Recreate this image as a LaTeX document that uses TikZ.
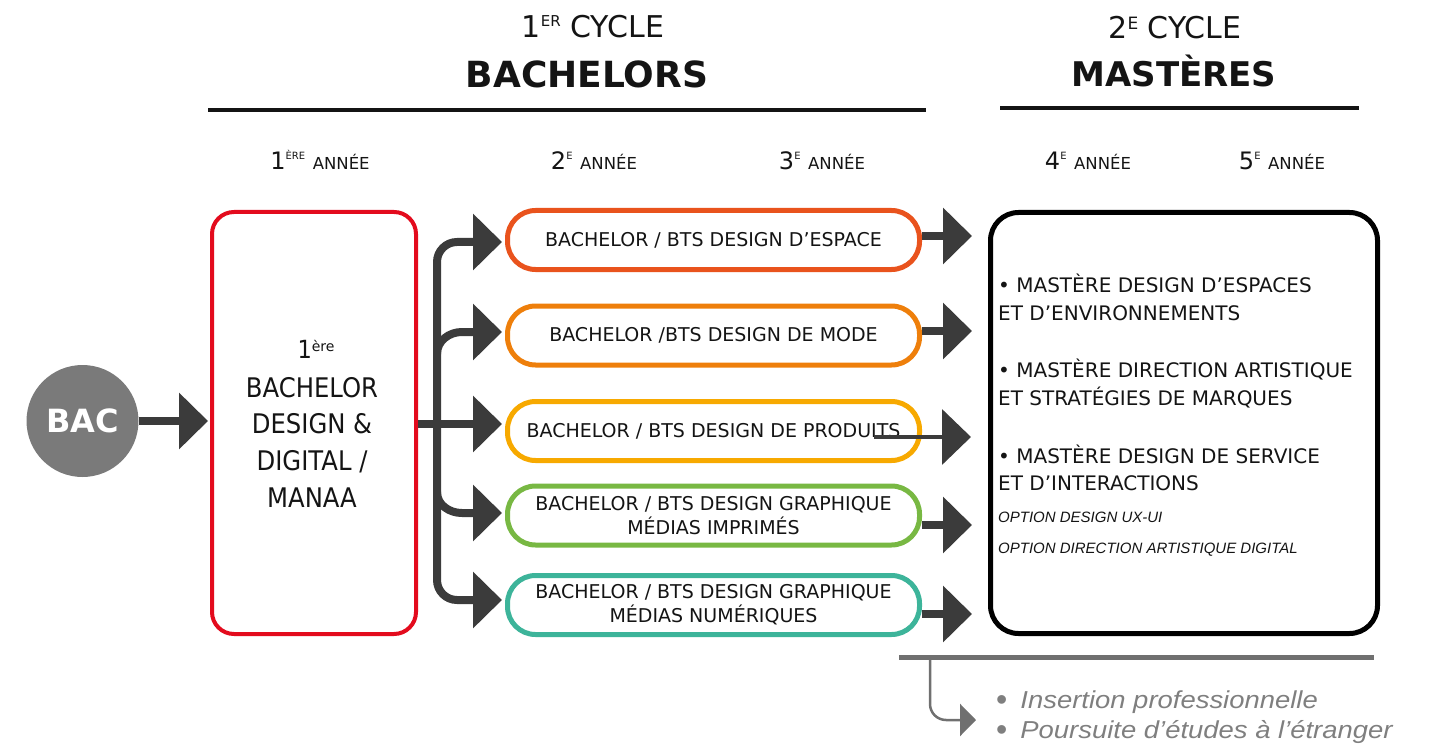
\documentclass[tikz,border=0pt]{standalone}
\usepackage{fontspec}
\setmainfont{DejaVu Sans}
\newfontfamily\condfont[FakeStretch=0.9]{DejaVu Sans}
\newfontfamily\arialfont{Liberation Sans}
\newfontfamily\widearial[FakeStretch=1.12]{Liberation Sans}
\usetikzlibrary{arrows.meta}
\newcommand\myfs[2]{\fontsize{#1pt}{#2pt}\selectfont}
\newcommand\graydot{\raisebox{-2pt}{\arialfont\myfs{32}{32}•}}
\definecolor{cRed}{HTML}{E30B1D}
\definecolor{cA}{HTML}{E9531D}
\definecolor{cB}{HTML}{EE7F0B}
\definecolor{cC}{HTML}{F7A900}
\definecolor{cD}{HTML}{78B843}
\definecolor{cE}{HTML}{3DB49A}
\definecolor{dk}{HTML}{3B3B3B}
\definecolor{bacg}{HTML}{7A7A7A}
\definecolor{lg}{HTML}{707070}
\definecolor{tg}{HTML}{7F7F7F}
\definecolor{txt}{HTML}{141414}
\begin{document}
\begin{tikzpicture}[x=1pt,y=-1pt,
  fat/.style={draw=dk, line width=8pt, -{Triangle[width=55pt,length=29pt]}},
  bbox/.style={draw=#1, line width=5pt, rounded corners=28pt, minimum width=412pt, minimum height=59pt, inner sep=0pt, align=center, font=\myfs{19}{24}, text=txt},
  hd/.style={anchor=base, inner sep=0pt, text=txt},
  mt/.style={anchor=base west, inner sep=0pt, text=txt, font=\myfs{20}{24}},
  opt/.style={anchor=base west, inner sep=0pt, text=txt, font=\arialfont\itshape\myfs{15}{18}},
  rb/.style={anchor=base, inner sep=0pt, text=txt, font=\condfont\myfs{27}{30}},
  bt/.style={anchor=base west, inner sep=0pt, text=tg, font=\widearial\myfs{24.5}{30}},
  rule/.style={draw=txt, line width=4.5pt}
]
\useasboundingbox (0,0) rectangle (1435,746);

% headers
\node[hd] (h1) at (593,38) {\myfs{30}{36}1\raisebox{11pt}{\myfs{15}{15}ER} CYCLE};
\node[hd] (h2) at (587,88) {\bfseries\myfs{36}{40}BACHELORS};
\node[hd] (h3) at (1175,39) {\myfs{30}{36}2\raisebox{9.5pt}{\myfs{17}{17}E} CYCLE};
\node[hd] (h4) at (1174,87) {\bfseries\myfs{34}{40}MASTÈRES};
\coordinate (r1a) at (208,110); \coordinate (r1b) at (926,110);
\coordinate (r2a) at (1000,108); \coordinate (r2b) at (1359,108);
\draw[rule] (r1a) -- (r1b);
\draw[rule] (r2a) -- (r2b);

% years
\node[hd] (y1l) at (320,170) {\myfs{24}{28}1\raisebox{10pt}{\myfs{10}{10}ÈRE} \myfs{16.5}{20}ANNÉE};
\node[hd] (y2l) at (594,170) {\myfs{24}{28}2\raisebox{10pt}{\myfs{10}{10}E} \myfs{16.5}{20}ANNÉE};
\node[hd] (y3l) at (822,170) {\myfs{24}{28}3\raisebox{10pt}{\myfs{10}{10}E} \myfs{16.5}{20}ANNÉE};
\node[hd] (y4l) at (1088,170) {\myfs{24}{28}4\raisebox{10pt}{\myfs{10}{10}E} \myfs{16.5}{20}ANNÉE};
\node[hd] (y5l) at (1282,170) {\myfs{24}{28}5\raisebox{10pt}{\myfs{10}{10}E} \myfs{16.5}{20}ANNÉE};

% BAC
\node[circle, fill=bacg, minimum size=112pt, inner sep=0pt, text=white, font=\bfseries\myfs{32}{32}] (bac) at (82.5,421) {BAC};

% first year box
\node[draw=cRed, line width=4pt, rounded corners=22pt, minimum width=204pt, minimum height=422pt, inner sep=0pt] (y1) at (314,423) {};
\node[anchor=base, inner sep=0pt, text=txt] (y1a) at (316,358) {\condfont\myfs{25}{30}1\raisebox{7pt}{\normalfont\myfs{14}{14}ère}};
\node[rb] (y1b) at (312,397) {BACHELOR};
\node[rb] (y1c) at (312,433) {DESIGN \&};
\node[rb] (y1d) at (312,470) {DIGITAL /};
\node[rb] (y1e) at (312,507) {MANAA};

% bachelor boxes
\node[bbox=cA] (b1) at (713.5,240) {BACHELOR / BTS DESIGN D’ESPACE};
\node[bbox=cB] (b2) at (713.5,335.5) {BACHELOR /BTS DESIGN DE MODE};
\node[bbox=cC] (b3) at (713.5,431) {BACHELOR / BTS DESIGN DE PRODUITS};
\node[bbox=cD] (b4) at (713.5,515.5) {BACHELOR / BTS DESIGN GRAPHIQUE\\MÉDIAS IMPRIMÉS};
\node[bbox=cE] (b5) at (713.5,605) {BACHELOR / BTS DESIGN GRAPHIQUE\\MÉDIAS NUMÉRIQUES};

% master box
\node[draw=black, line width=5pt, rounded corners=28pt, minimum width=387pt, minimum height=421pt, inner sep=0pt] (m) at (1184,423) {};
\node[mt] (m1) at (998,292) {• MASTÈRE DESIGN D’ESPACES};
\node[mt] (m2) at (998,320) {ET D’ENVIRONNEMENTS};
\node[mt] (m3) at (998,377) {• MASTÈRE DIRECTION ARTISTIQUE};
\node[mt] (m4) at (998,405) {ET STRATÉGIES DE MARQUES};
\node[mt] (m5) at (998,463) {• MASTÈRE DESIGN DE SERVICE};
\node[mt] (m6) at (998,490) {ET D’INTERACTIONS};
\node[opt] (m7) at (998,522) {OPTION DESIGN UX-UI};
\node[opt] (m8) at (998,553) {OPTION DIRECTION ARTISTIQUE DIGITAL};

% BAC arrow
\coordinate (tb) at (208,421);
\draw[fat] (bac.east) -- (tb);

% fork
\coordinate (fk) at (437,424);
\coordinate (t1) at (502,242);
\coordinate (t2) at (502,332);
\coordinate (t3) at (502,424);
\coordinate (t4) at (502,513);
\coordinate (t5) at (502,600);
\draw[fat, rounded corners=20pt] (fk) |- (t1);
\draw[fat, rounded corners=20pt] (fk) |- (t5);
\draw[fat] (437,354) to[out=90,in=180] (462,332) -- (t2);
\draw[fat] (437,492) to[out=-90,in=180] (462,513) -- (t4);
\draw[fat] (y1.east |- t3) -- (t3);

% arrows to master
\coordinate (u1) at (972,236);
\coordinate (u2) at (972,331);
\coordinate (u3) at (971,437);
\coordinate (u4) at (972,525);
\coordinate (u5) at (972,614);
\coordinate (s3) at (874,437);
\draw[fat] (b1.east |- u1) -- (u1);
\draw[fat] (b2.east |- u2) -- (u2);
\draw[fat, line width=4pt] (s3) -- (u3);
\draw[fat] (b4.east |- u4) -- (u4);
\draw[fat] (b5.east |- u5) -- (u5);

% bottom
\coordinate (g1) at (899,657); \coordinate (g2) at (1374,657);
\coordinate (gh) at (930,657); \coordinate (gt) at (976,720);
\draw[draw=lg, line width=5pt] (g1) -- (g2);
\draw[draw=lg, line width=2.5pt, rounded corners=16pt, -{Triangle[width=32pt,length=16pt]}] (gh) |- (gt);
\node[bt] (p1) at (996,708) {\graydot\hspace{13pt}\itshape Insertion professionnelle};
\node[bt] (p2) at (996,738) {\graydot\hspace{13pt}\itshape Poursuite d’études à l’étranger};
\end{tikzpicture}
\end{document}
